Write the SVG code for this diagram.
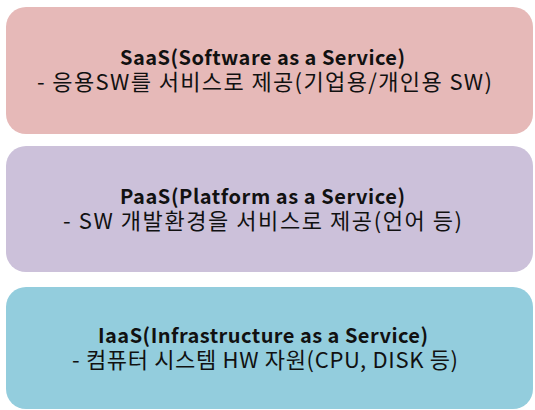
<svg xmlns="http://www.w3.org/2000/svg" width="535" height="410" viewBox="0 0 535 410">
  <style>
    .box { stroke: none; }
    .title { font-family: "Noto Sans CJK KR", "Noto Sans", sans-serif; font-size: 20px; font-weight: bold; fill: #111; text-anchor: middle; }
    .desc { font-family: "Noto Sans CJK KR", "Noto Sans", sans-serif; font-size: 22px; fill: #111; text-anchor: middle; }
  </style>
  <rect width="535" height="410" fill="#ffffff"/>
  <g id="saas">
    <rect class="box" x="6" y="7" width="527" height="127" rx="20" ry="20" fill="#e6b9b8"/>
    <text class="title" x="262.5" y="65" textLength="285" lengthAdjust="spacing">SaaS(Software as a Service)</text>
    <text class="desc" x="264.5" y="90" textLength="455" lengthAdjust="spacing">- 응용SW를 서비스로 제공(기업용/개인용 SW)</text>
  </g>
  <g id="paas">
    <rect class="box" x="6" y="146" width="527" height="126" rx="20" ry="20" fill="#ccc1da"/>
    <text class="title" x="262.5" y="204" textLength="285" lengthAdjust="spacing">PaaS(Platform as a Service)</text>
    <text class="desc" x="262.5" y="229" textLength="399" lengthAdjust="spacing">- SW 개발환경을 서비스로 제공(언어 등)</text>
  </g>
  <g id="iaas">
    <rect class="box" x="6" y="287" width="527" height="122" rx="20" ry="20" fill="#93cddd"/>
    <text class="title" x="263" y="343" textLength="330" lengthAdjust="spacing">IaaS(Infrastructure as a Service)</text>
    <text class="desc" x="265" y="368" textLength="386" lengthAdjust="spacing">- 컴퓨터 시스템 HW 자원(CPU, DISK 등)</text>
  </g>
</svg>
